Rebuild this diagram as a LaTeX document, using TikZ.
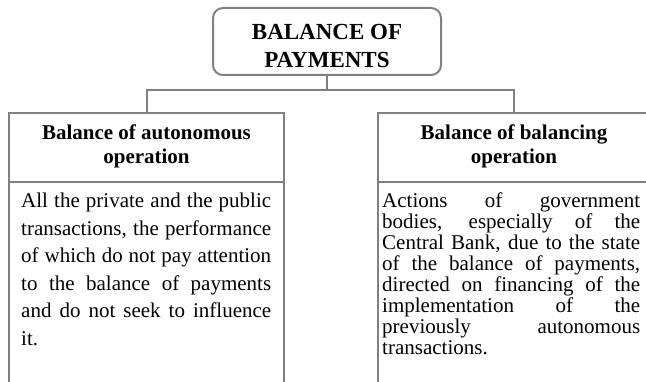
\documentclass[tikz,border=0pt]{standalone}
\usepackage{fontspec}
\setmainfont{Liberation Serif}
\usetikzlibrary{positioning,calc}
\definecolor{linegray}{RGB}{128,128,128}

\begin{document}
\begin{tikzpicture}[x=1pt, y=-1pt,
    frame/.style={draw=linegray, line width=2pt, inner sep=0pt},
    headtext/.style={align=center, font=\fontsize{21}{24}\selectfont\bfseries, inner sep=0pt},
    bodytext/.style={align=justify, inner sep=0pt, anchor=north west}]
    \clip (0,0) rectangle (646,382);

    % Title box
    \node[frame, rounded corners=10pt, minimum width=228pt, minimum height=67pt] (bop) at (327,41.5) {};
    \node[align=center, inner sep=0pt, font=\fontsize{23}{28}\selectfont\bfseries] (boplabel) at (327,46) {BALANCE OF\\PAYMENTS};

    % Two panels, open at the bottom
    \node[frame, anchor=north west, minimum width=275pt, minimum height=300pt] (auto) at (8,112) {};
    \node[frame, anchor=north west, minimum width=272pt, minimum height=300pt] (bal) at (377,112) {};

    % Tree connector
    \coordinate (split) at (327,90);
    \draw[linegray, line width=2pt] (bop.south) -- (split);
    \draw[linegray, line width=2pt] (auto.north) |- (split) -| (bal.north);

    % Header separators
    \coordinate (sep) at (0,182);
    \draw[linegray, line width=2pt] (auto.west |- sep) -- (auto.east |- sep);
    \draw[linegray, line width=2pt] (bal.west |- sep) -- (bal.east |- sep);

    % Headers
    \coordinate (headrow) at (0,146);
    \node[headtext] (autohead) at (auto.north |- headrow) {Balance of autonomous\\operation};
    \node[headtext] (balhead) at (bal.north |- headrow) {Balance of balancing\\operation};

    % Body texts
    \node[bodytext, text width=250pt, font=\fontsize{21}{27.5}\selectfont] (autotext) at (21,193)
        {All the private and the public\linebreak transactions, the performance\linebreak
         of which do not pay attention\linebreak to the balance of payments\linebreak
         and do not seek to influence\linebreak it.};
    \node[bodytext, text width=258pt, font=\fontsize{21}{21}\selectfont] (baltext) at (382,193)
        {Actions of government\linebreak bodies, especially of the\linebreak
         Central Bank, due to the state\linebreak of the balance of payments,\linebreak
         directed on financing of the\linebreak implementation of the\linebreak
         previously autonomous\linebreak transactions.};
\end{tikzpicture}
\end{document}
